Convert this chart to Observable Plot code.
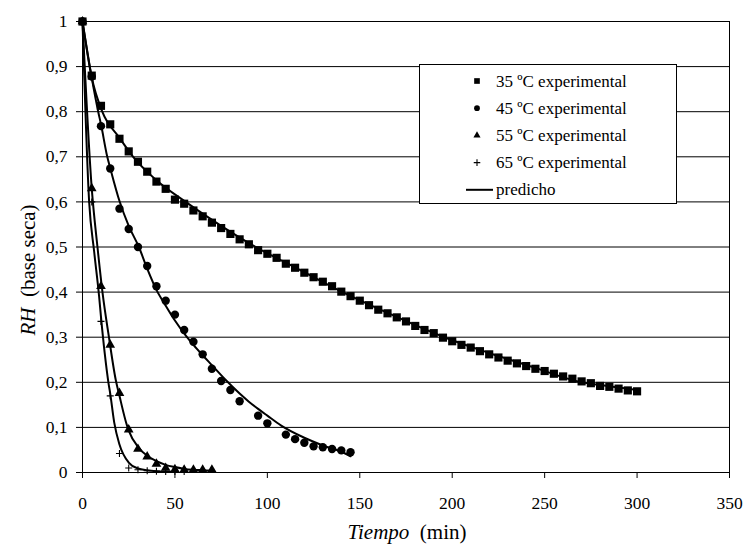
<!DOCTYPE html>
<html><head><meta charset="utf-8">
<script src="https://cdn.jsdelivr.net/npm/d3@7"></script>
<script src="https://cdn.jsdelivr.net/npm/@observablehq/plot@0.6"></script>
<style>body{margin:0;background:#fff;} #chart{width:746px;height:544px;}</style>
</head><body><div id="chart"></div>
<script>
// ---- tick labels ----
const xTicks = [0, 50, 100, 150, 200, 250, 300, 350];
const yTicks = [0, 0.1, 0.2, 0.3, 0.4, 0.5, 0.6, 0.7, 0.8, 0.9, 1];

// ---- experimental series ----
const t35 = [0,5,10,15,20,25,30,35,40,45,50,55,60,65,70,75,80,85,90,95,100,105,110,115,120,125,130,135,140,145,150,155,160,165,170,175,180,185,190,195,200,205,210,215,220,225,230,235,240,245,250,255,260,265,270,275,280,285,290,295,300];
const rh35 = [1.000,0.880,0.813,0.772,0.740,0.712,0.689,0.667,0.645,0.629,0.605,0.596,0.581,0.568,0.554,0.542,0.529,0.517,0.506,0.493,0.485,0.476,0.463,0.454,0.443,0.433,0.423,0.413,0.401,0.391,0.381,0.371,0.361,0.353,0.344,0.335,0.325,0.316,0.309,0.299,0.291,0.283,0.277,0.269,0.262,0.255,0.248,0.242,0.236,0.230,0.225,0.219,0.213,0.208,0.202,0.198,0.192,0.190,0.186,0.182,0.180];

const t45 = [0,5,10,15,20,25,30,35,40,45,50,55,60,65,70,75,80,85,95,100,110,115,120,125,130,135,140,145];
const rh45 = [1.000,0.878,0.768,0.674,0.585,0.540,0.500,0.458,0.413,0.381,0.350,0.316,0.290,0.262,0.230,0.203,0.183,0.158,0.126,0.109,0.084,0.074,0.066,0.058,0.056,0.052,0.049,0.045];

const t55 = [0,5,10,15,20,25,30,35,40,45,50,55,60,65,70];
const rh55 = [1.000,0.630,0.413,0.283,0.176,0.095,0.052,0.035,0.019,0.010,0.007,0.006,0.006,0.006,0.006];

const t65 = [0,5,10,15,20,25,30,35,40,45,50,55];
const rh65 = [1.000,0.600,0.335,0.170,0.042,0.010,0.006,0.004,0.003,0.002,0.002,0.002];

// ---- predicted curves ----
const p35t = [0,5,10.7,20,27.4,40,55.8,75,93.7,115,140.7,165,195.7,220,245,268,285,300];
const p35v = [1,0.876,0.8,0.742,0.7,0.648,0.6,0.547,0.5,0.455,0.4,0.354,0.3,0.265,0.232,0.202,0.191,0.183];
const p45t = [0,5,8.5,10,13.4,15,20,25,30.5,35,40,45,50,56,60,65,70,77.5,85,90,95,100,107.5,120,130,140,145];
const p45v = [1,0.875,0.8,0.772,0.7,0.675,0.602,0.547,0.5,0.452,0.405,0.37,0.337,0.303,0.283,0.26,0.238,0.205,0.175,0.157,0.141,0.126,0.104,0.077,0.06,0.046,0.036];
const p55t = [0,5,8.1,10.8,14.3,18,20,24,25,30,35,40,45,50,55,60,65,70];
const p55v = [1,0.63,0.5,0.4,0.3,0.205,0.17,0.105,0.093,0.057,0.037,0.025,0.017,0.012,0.008,0.006,0.005,0.004];
const p65t = [0,3.6,6.3,9,10,12,14,15,17.2,20,25,30,35,40,45,50];
const p65v = [1,0.6,0.49,0.39,0.345,0.265,0.2,0.175,0.11,0.062,0.022,0.009,0.005,0.003,0.002,0.001];

// ---- legend labels ----
const legendLabels = ["35 ºC experimental","45 ºC experimental","55 ºC experimental","65 ºC experimental","predicho"];

const pts = (t, v) => t.map((d, i) => ({t: d, v: v[i]}));

const FONTS = "Liberation Serif, Times New Roman, Tinos, Times, serif";
const fmtY = d => String(+d.toFixed(1)).replace(".", ",");

const chart = Plot.plot({
  width: 746, height: 544,
  marginLeft: 82, marginRight: 17, marginTop: 21, marginBottom: 72,
  style: {fontFamily: FONTS, fontSize: "17.5px", background: "#fff", color: "#000"},
  x: {domain: [0, 350], ticks: xTicks, tickSize: 6, tickPadding: 18, label: null, tickFormat: d => String(d)},
  y: {domain: [0, 1], ticks: yTicks, tickSize: 6, tickPadding: 9, label: null, tickFormat: fmtY},
  marks: [
    Plot.ruleY(yTicks, {stroke: "#000", strokeWidth: 1}),
    Plot.frame({stroke: "#000", strokeWidth: 1}),
    Plot.line(pts(p35t, p35v), {x: "t", y: "v", stroke: "#000", strokeWidth: 2, curve: "monotone-x"}),
    Plot.line(pts(p45t, p45v), {x: "t", y: "v", stroke: "#000", strokeWidth: 2, curve: "monotone-x"}),
    Plot.line(pts(p55t, p55v), {x: "t", y: "v", stroke: "#000", strokeWidth: 2, curve: "monotone-x"}),
    Plot.line(pts(p65t, p65v), {x: "t", y: "v", stroke: "#000", strokeWidth: 2, curve: "monotone-x"}),
    Plot.dot(pts(t35, rh35), {x: "t", y: "v", symbol: "square", r: 4.6, fill: "#000", stroke: "none"}),
    Plot.dot(pts(t45, rh45), {x: "t", y: "v", symbol: "circle", r: 4.2, fill: "#000", stroke: "none"}),
    Plot.dot(pts(t55, rh55), {x: "t", y: "v", symbol: "triangle", r: 3.6, fill: "#000", stroke: "none"}),
    Plot.dot(pts(t65, rh65), {x: "t", y: "v", symbol: "plus", r: 2.4, stroke: "#000", strokeWidth: 1.1, fill: "none"})
  ]
});
document.getElementById("chart").appendChild(chart);

// ---- axis titles and legend ----
const svg = d3.select(chart);
const xt = svg.append("text").attr("x", 407).attr("y", 539).attr("text-anchor", "middle")
  .attr("font-size", 21).attr("fill", "#000");
xt.append("tspan").attr("font-style", "italic").text("Tiempo");
xt.append("tspan").text("\u00a0\u00a0(min)");

const yt = svg.append("text").attr("transform", "translate(35,270) rotate(-90)").attr("text-anchor", "middle")
  .attr("font-size", 21).attr("fill", "#000");
yt.append("tspan").attr("font-style", "italic").text("RH");
yt.append("tspan").text("\u00a0\u00a0(base seca)");

const lg = svg.append("g").attr("text-anchor", "start");
lg.append("rect").attr("x", 419.5).attr("y", 64.5).attr("width", 257).attr("height", 139)
  .attr("fill", "#fff").attr("stroke", "#000").attr("stroke-width", 1);
const rowY = i => 81 + i * 27.2;
const symSq = d3.symbol(d3.symbolSquare, 32)();
const symCi = d3.symbol(d3.symbolCircle, 26)();
const symTr = d3.symbol(d3.symbolTriangle, 22)();
const symPl = d3.symbol(d3.symbolPlus, 16)();
[symSq, symCi, symTr].forEach((p, i) => {
  lg.append("path").attr("d", p).attr("transform", `translate(477,${rowY(i)})`).attr("fill", "#000");
});
lg.append("path").attr("d", symPl).attr("transform", `translate(477,${rowY(3)})`).attr("fill", "none").attr("stroke", "#000").attr("stroke-width", 1.1);
lg.append("line").attr("x1", 466).attr("x2", 493).attr("y1", rowY(4)).attr("y2", rowY(4)).attr("stroke", "#000").attr("stroke-width", 2);
legendLabels.forEach((s, i) => {
  lg.append("text").attr("x", 496).attr("y", rowY(i)).attr("dy", "0.33em").attr("text-anchor", "start")
    .attr("font-size", 17).attr("fill", "#000").text(s);
});
svg.selectAll("text").attr("font-family", FONTS);
</script>
</body></html>
